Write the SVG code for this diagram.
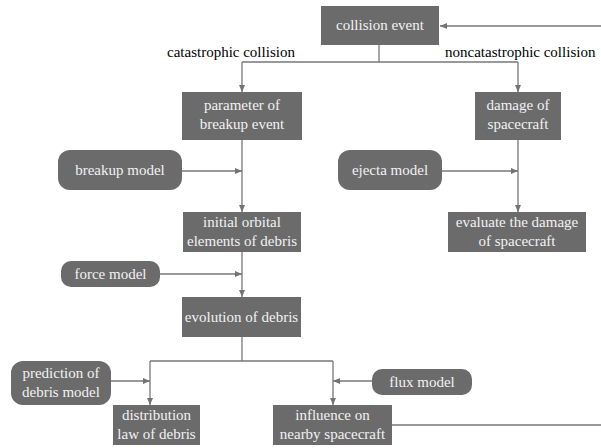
<svg xmlns="http://www.w3.org/2000/svg" width="601" height="448" viewBox="0 0 601 448" font-family="'Liberation Serif', 'DejaVu Serif', 'Times New Roman', serif">
<defs>
<marker id="ah" markerWidth="7" markerHeight="6" refX="7" refY="3" orient="auto" markerUnits="userSpaceOnUse">
<path d="M0,0 L7,3 L0,6 Z" fill="#737373"/>
</marker>
</defs>
<style>
text{font-family:'Liberation Serif','DejaVu Serif','Times New Roman',serif;}
.box{fill:#6b6b6b;}
.t{font-size:15px;fill:#f2f2f2;text-anchor:middle;}
.lbl{font-size:15px;fill:#000;}
.c{fill:none;stroke:#777;stroke-width:1.3;}
.a{marker-end:url(#ah);}
</style>
<rect width="601" height="448" fill="#fff"/>
<g id="connectors">
<line class="c a" x1="601" y1="26" x2="440" y2="26"/>
<polyline class="c" points="379,45 379,62"/>
<polyline class="c" points="242,62 518,62"/>
<line class="c a" x1="242" y1="62" x2="242" y2="92"/>
<line class="c a" x1="518" y1="62" x2="518" y2="92"/>
<line class="c a" x1="242" y1="140" x2="242" y2="212"/>
<line class="c a" x1="182" y1="171" x2="242" y2="171"/>
<line class="c a" x1="518" y1="140" x2="518" y2="212"/>
<line class="c a" x1="442" y1="171" x2="518" y2="171"/>
<line class="c a" x1="242" y1="252" x2="242" y2="297"/>
<line class="c a" x1="160" y1="274" x2="242" y2="274"/>
<polyline class="c" points="242,337 242,361"/>
<polyline class="c" points="150,361 333,361"/>
<line class="c a" x1="150" y1="361" x2="150" y2="405"/>
<line class="c a" x1="333" y1="361" x2="333" y2="405"/>
<line class="c a" x1="111" y1="381" x2="150" y2="381"/>
<line class="c a" x1="372" y1="381" x2="333" y2="381"/>
<line class="c" x1="392" y1="425" x2="601" y2="425"/>
</g>
<g id="labels">
<text class="lbl" x="167" y="57">catastrophic collision</text>
<text class="lbl" x="445" y="57">noncatastrophic collision</text>
</g>
<g id="collision-event">
<rect class="box" x="321" y="6" width="118" height="39"/>
<text class="t" x="380" y="30">collision event</text>
</g>
<g id="parameter">
<rect class="box" x="182" y="92" width="120" height="48"/>
<text class="t" x="242" y="110">parameter of</text>
<text class="t" x="242" y="129">breakup event</text>
</g>
<g id="damage">
<rect class="box" x="475" y="92" width="86" height="48"/>
<text class="t" x="518" y="110">damage of</text>
<text class="t" x="518" y="129">spacecraft</text>
</g>
<g id="breakup-model">
<rect class="box" x="58" y="150" width="124" height="40" rx="12"/>
<text class="t" x="120" y="175">breakup model</text>
</g>
<g id="ejecta-model">
<rect class="box" x="338" y="150" width="104" height="40" rx="12"/>
<text class="t" x="390" y="175">ejecta model</text>
</g>
<g id="initial-orbital">
<rect class="box" x="183" y="212" width="118" height="40"/>
<text class="t" x="242" y="227">initial orbital</text>
<text class="t" x="242" y="246">elements of debris</text>
</g>
<g id="evaluate">
<rect class="box" x="448" y="212" width="138" height="40"/>
<text class="t" x="517" y="227">evaluate the damage</text>
<text class="t" x="517" y="246">of spacecraft</text>
</g>
<g id="force-model">
<rect class="box" x="61" y="261" width="99" height="26" rx="10"/>
<text class="t" x="110.5" y="279">force model</text>
</g>
<g id="evolution">
<rect class="box" x="182" y="297" width="119" height="40"/>
<text class="t" x="241.5" y="322">evolution of debris</text>
</g>
<g id="prediction">
<rect class="box" x="11" y="361" width="100" height="44" rx="12"/>
<text class="t" x="61" y="378">prediction of</text>
<text class="t" x="61" y="397">debris model</text>
</g>
<g id="distribution">
<rect class="box" x="113" y="405" width="87" height="40"/>
<text class="t" x="156.5" y="420">distribution</text>
<text class="t" x="156.5" y="439">law of debris</text>
</g>
<g id="flux-model">
<rect class="box" x="372" y="369" width="100" height="26" rx="10"/>
<text class="t" x="422" y="387">flux model</text>
</g>
<g id="influence">
<rect class="box" x="273" y="405" width="119" height="40"/>
<text class="t" x="332.5" y="420">influence on</text>
<text class="t" x="332.5" y="439">nearby spacecraft</text>
</g>
</svg>
